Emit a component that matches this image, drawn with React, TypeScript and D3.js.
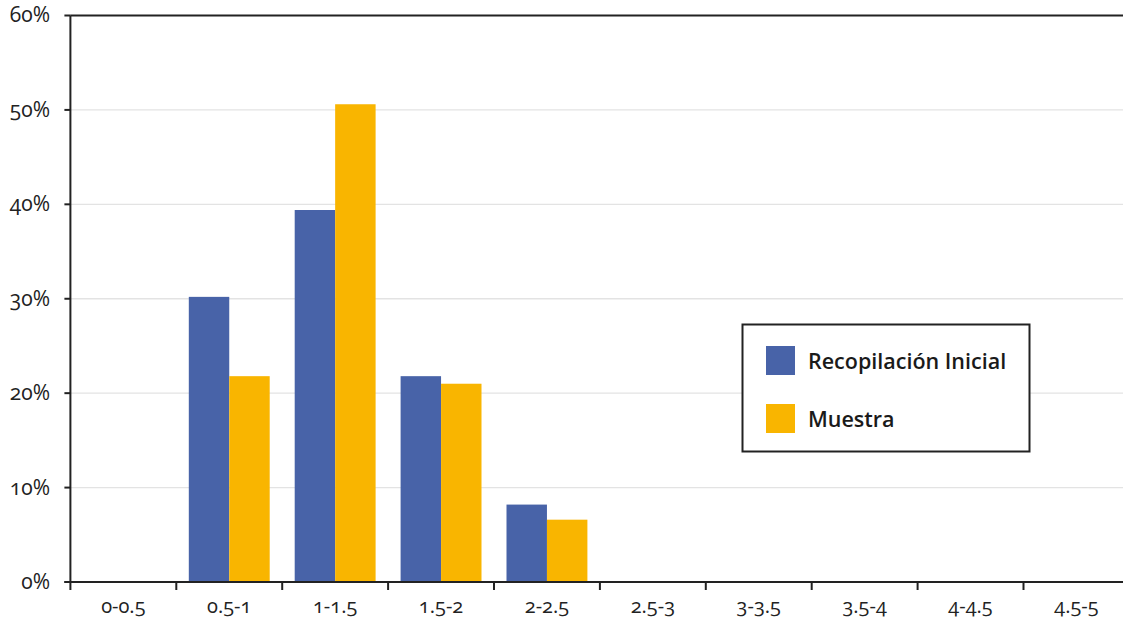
import React from "react";
import * as d3 from "d3";

const categories = ["0-0.5", "0.5-1", "1-1.5", "1.5-2", "2-2.5", "2.5-3", "3-3.5", "3.5-4", "4-4.5", "4.5-5"];
const recopilacion = [0, 30.2, 39.4, 21.8, 8.2, 0, 0, 0, 0, 0];
const muestra = [0, 21.8, 50.6, 21.0, 6.6, 0, 0, 0, 0, 0];
const seriesNames = ["Recopilación Inicial", "Muestra"];
const yTicks = [0, 10, 20, 30, 40, 50, 60];

const colors = ["#4863A8", "#F9B500"];
const W = 1123, H = 625;
const left = 70.4, right = 1129.4, top = 15.5, bottom = 582;
const font = "'Open Sans', 'Noto Sans', sans-serif";

export default function App() {
  const x = d3.scaleBand<string>().domain(categories).range([left, right]).paddingInner(0).paddingOuter(0);
  const y = d3.scaleLinear().domain([0, 60]).range([bottom, top]);
  const groupPad = 12.5;
  const inner = d3.scaleBand<string>().domain(seriesNames).range([groupPad, x.bandwidth() - groupPad]);
  const data = [recopilacion, muestra];
  const numStyle = { fontVariantNumeric: "oldstyle-nums" as const };
  return (
    <svg width={W} height={H} style={{ position: "absolute", left: 0, top: 0, background: "#fff" }} fontFamily={font}>
      {yTicks.slice(1, -1).map((t) => (
        <line key={"g" + t} x1={left} x2={W} y1={y(t)} y2={y(t)} stroke="#e3e3e3" strokeWidth={1.3} />
      ))}
      {data.map((vals, si) =>
        vals.map((v, i) =>
          v > 0 ? (
            <rect key={si + "-" + i} x={(x(categories[i]) as number) + (inner(seriesNames[si]) as number)} y={y(v)} width={inner.bandwidth()} height={bottom - y(v)} fill={colors[si]} />
          ) : null
        )
      )}
      <line x1={left} x2={W} y1={y(60)} y2={y(60)} stroke="#222" strokeWidth={2} />
      <line x1={left} x2={left} y1={top} y2={bottom + 8} stroke="#222" strokeWidth={2} />
      <line x1={left - 6} x2={W} y1={bottom} y2={bottom} stroke="#222" strokeWidth={2} />
      {yTicks.map((t) => (
        <g key={"t" + t}>
          <line x1={left - 6} x2={left} y1={y(t)} y2={y(t)} stroke="#222" strokeWidth={2} />
          <text x={50} y={y(t)} dy="0.33em" textAnchor="end" fontSize={21} fill="#222" style={numStyle}>{t + "%"}</text>
        </g>
      ))}
      {categories.map((c, i) => (
        <g key={c}>
          {i > 0 && <line x1={x(c) as number} x2={x(c) as number} y1={bottom} y2={bottom + 8} stroke="#222" strokeWidth={2} />}
          <text x={(x(c) as number) + x.bandwidth() / 2} y={613} textAnchor="middle" fontSize={20} fill="#222" style={numStyle}>{c}</text>
        </g>
      ))}
      <rect x={742.5} y={324.5} width={287} height={127} fill="#fff" stroke="#222" strokeWidth={2} />
      {seriesNames.map((s, i) => (
        <g key={s}>
          <rect x={766} y={346 + i * 58} width={29} height={29} fill={colors[i]} />
          <text x={808} y={361 + i * 58} dy="0.35em" fontSize={21.5} fontWeight={600} fill="#1a1a1a">{s}</text>
        </g>
      ))}
    </svg>
  );
}
